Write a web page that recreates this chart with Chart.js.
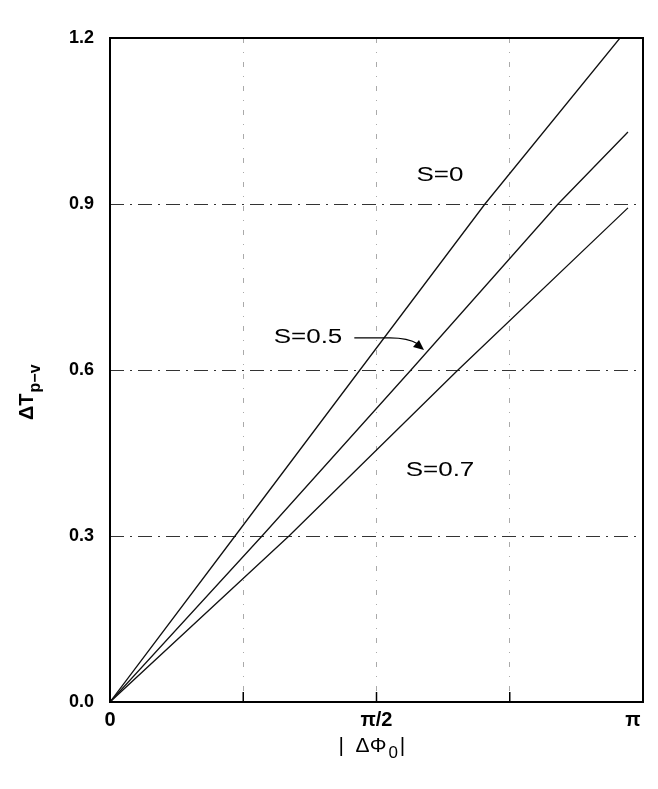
<!DOCTYPE html>
<html>
<head>
<meta charset="utf-8">
<script src="https://cdn.jsdelivr.net/npm/chart.js@4"></script>
<style>
  html, body { margin: 0; padding: 0; background: #fff; }
  #wrap { width: 658px; height: 789px; }
</style>
</head>
<body>
<div id="wrap"><canvas id="chart"></canvas></div>
<script>
const PI = Math.PI

// |ΔΦ0| positions read along each curve, and ΔT(p-v) values
const phaseS0 = [0, 0.737, 1.473, 2.21, 3.006]
const valuesS0 = [0, 0.3, 0.6, 0.9, 1.2]
const phaseS05 = [0, 0.896, 1.774, 2.641, 3.053]
const valuesS05 = [0, 0.3, 0.6, 0.9, 1.03]
const phaseS07 = [0, 1.055, 2.051, 3.053]
const valuesS07 = [0, 0.3, 0.6, 0.893]

const xTicks = [0, PI / 4, PI / 2, 3 * PI / 4, PI]
// trailing spaces pull the last label inside the frame, as in the figure
const xTickLabels = ['0', '', 'π/2', '', 'π\u2002\u2002']
const yTicks = [0, 0.3, 0.6, 0.9, 1.2]

// curve labels, in data coordinates
const curveLabels = [
	{ text: 'S=0', x: 1.945, y: 0.952 },
	{ text: 'S=0.5', x: 1.167, y: 0.658 },
	{ text: 'S=0.7', x: 1.945, y: 0.419 },
]

function points(xs, ys) {
	return xs.map((x, i) => ({ x: x, y: ys[i] }))
}

function series(label, xs, ys) {
	return {
		label: label,
		data: points(xs, ys),
		borderColor: '#111',
		borderWidth: 1.3,
		pointRadius: 0,
		fill: false,
		tension: 0,
		clip: 0,
	}
}

var FONT = '"Liberation Sans", Arial, sans-serif'

// draw text stretched horizontally, centred at (x, y)
function wideText(ctx, text, x, y, sx) {
	ctx.save()
	ctx.translate(x, y)
	ctx.scale(sx, 1)
	ctx.fillText(text, 0, 0)
	ctx.restore()
}

const frame = {
	id: 'frame',
	afterDraw(chart) {
		const ctx = chart.ctx
		const a = chart.chartArea
		const xs = chart.scales.x
		const ys = chart.scales.y
		ctx.save()
		ctx.strokeStyle = '#000'
		ctx.lineWidth = 2
		ctx.strokeRect(a.left, a.top, a.right - a.left, a.bottom - a.top)

		// inward tick marks on the bottom axis
		ctx.lineWidth = 1.5
		xTicks.slice(1, -1).forEach((v) => {
			const px = xs.getPixelForValue(v)
			ctx.beginPath()
			ctx.moveTo(px, a.bottom)
			ctx.lineTo(px, a.bottom - 10)
			ctx.stroke()
		})

		ctx.fillStyle = '#000'
		ctx.font = '20px ' + FONT
		ctx.textAlign = 'center'
		ctx.textBaseline = 'middle'
		curveLabels.forEach((l) => {
			wideText(ctx, l.text, xs.getPixelForValue(l.x), ys.getPixelForValue(l.y), 1.3)
		})

		// arrow from the S=0.5 label to its curve
		const x0 = xs.getPixelForValue(1.44), y0 = ys.getPixelForValue(0.658)
		const x1 = xs.getPixelForValue(1.65)
		const x2 = xs.getPixelForValue(1.839), y2 = ys.getPixelForValue(0.638)
		ctx.lineWidth = 1.3
		ctx.beginPath()
		ctx.moveTo(x0, y0)
		ctx.lineTo(x1, y0)
		ctx.quadraticCurveTo(x1 + 18, y0, x2 - 4, y2 - 5)
		ctx.stroke()
		ctx.beginPath()
		ctx.moveTo(x2 + 2, y2 + 1)
		ctx.lineTo(x2 - 9, y2 - 2)
		ctx.lineTo(x2 - 3, y2 - 9)
		ctx.closePath()
		ctx.fill()

		// y axis title: ΔT with subscript p−v
		ctx.save()
		ctx.translate(26, (a.top + a.bottom) / 2 + 30)
		ctx.rotate(-PI / 2)
		ctx.textAlign = 'left'
		ctx.textBaseline = 'alphabetic'
		ctx.font = 'bold 20px ' + FONT
		ctx.fillText('ΔT', -20, 7)
		const w = ctx.measureText('ΔT').width
		ctx.font = 'bold 16px ' + FONT
		ctx.fillText('p−v', -20 + w + 1, 14)
		ctx.restore()

		// x axis title: |ΔΦ0|
		ctx.textAlign = 'left'
		ctx.textBaseline = 'alphabetic'
		ctx.font = '21px ' + FONT
		const cx = xs.getPixelForValue(PI / 2)
		let tx = cx - 38
		ctx.fillText('|', tx, 752)
		tx += ctx.measureText('|  ').width
		ctx.fillText('ΔΦ', tx, 752)
		tx += ctx.measureText('ΔΦ').width + 2
		ctx.font = '17px ' + FONT
		ctx.fillText('0', tx, 758)
		tx += ctx.measureText('0').width + 2
		ctx.font = '21px ' + FONT
		ctx.fillText('|', tx, 752)
		ctx.restore()
	}
}

function edgeless(ctx, color) {
	const v = ctx.tick ? ctx.tick.value : null
	if (v === null) return color
	if (Math.abs(v - ctx.scale.min) < 1e-6 || Math.abs(v - ctx.scale.max) < 1e-6) return 'rgba(0,0,0,0)'
	return color
}

new Chart(document.getElementById('chart'), {
	type: 'line',
	data: {
		datasets: [
			series('S=0', phaseS0, valuesS0),
			series('S=0.5', phaseS05, valuesS05),
			series('S=0.7', phaseS07, valuesS07),
		]
	},
	options: {
		responsive: true,
		maintainAspectRatio: false,
		animation: false,
		layout: { padding: { left: 0, right: 15, top: 38, bottom: 0 } },
		plugins: { legend: { display: false }, tooltip: { enabled: false } },
		scales: {
			x: {
				type: 'linear',
				min: 0,
				max: PI,
				afterBuildTicks: (s) => { s.ticks = xTicks.map((v) => ({ value: v })) },
				afterFit: (s) => {
					s.height = 87
					s.paddingLeft = 0
					s.paddingRight = 0
				},
				ticks: {
					callback: (v, i) => xTickLabels[i],
					color: '#000',
					font: { family: FONT, size: 20, weight: 'bold' },
					padding: 6,
					maxRotation: 0,
					autoSkip: false,
				},
				grid: {
					color: (ctx) => edgeless(ctx, '#aaa'),
					lineWidth: 1,
					drawTicks: false,
				},
				border: { display: false, dash: [5, 9, 1, 9] },
			},
			y: {
				min: 0,
				max: 1.2,
				afterBuildTicks: (s) => { s.ticks = yTicks.map((v) => ({ value: v })) },
				afterFit: (s) => { s.width = 110 },
				ticks: {
					callback: (v) => v.toFixed(1),
					color: '#000',
					font: { family: FONT, size: 18, weight: 'bold' },
					padding: 16,
				},
				grid: {
					color: (ctx) => edgeless(ctx, '#333'),
					lineWidth: 1,
					drawTicks: false,
				},
				border: { display: false, dash: [14, 6, 2, 6] },
			},
		},
	},
	plugins: [frame],
})
</script>
</body>
</html>
